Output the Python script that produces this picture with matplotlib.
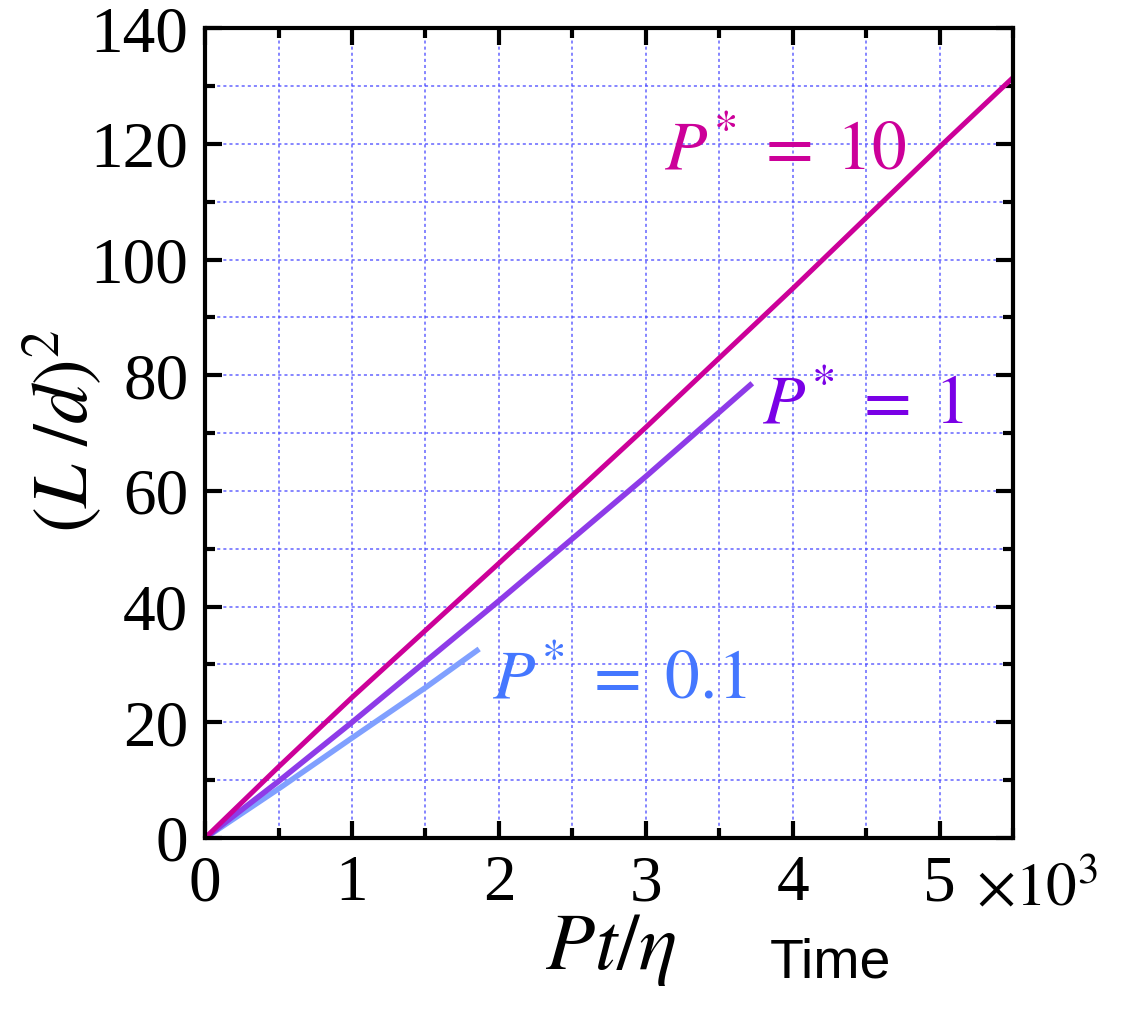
import matplotlib.pyplot as plt
from matplotlib.ticker import MultipleLocator

plt.rcParams['font.family'] = ['Liberation Serif', 'DejaVu Serif']
plt.rcParams['mathtext.fontset'] = 'stix'

# Growth curves, time in units of 10^3
t_01 = [0, 0.5, 1.0, 1.5, 1.85]
L_01 = [0, 8.5, 17.3, 26.0, 32.4]

t_1 = [0, 0.5, 1.0, 2.0, 3.0, 3.71]
L_1 = [0, 9.8, 20.0, 41.0, 62.5, 78.3]

t_10 = [0, 0.5, 1.0, 2.0, 3.0, 4.0, 5.0, 5.5]
L_10 = [0, 12.3, 24.3, 47.5, 71.0, 95.0, 119.5, 131.5]

fig = plt.figure(figsize=(11.27, 10.09), dpi=100)
ax = fig.add_axes([0.182, 0.1695, 0.717, 0.8025])

ax.plot(t_01, L_01, color='#80a0ff', lw=4)
ax.plot(t_1, L_1, color='#8e3be8', lw=4)
ax.plot(t_10, L_10, color='#cc0099', lw=3.6)

ax.set_xlim(0, 5.5)
ax.set_ylim(0, 140)
ax.xaxis.set_major_locator(MultipleLocator(1))
ax.xaxis.set_minor_locator(MultipleLocator(0.5))
ax.yaxis.set_major_locator(MultipleLocator(20))
ax.yaxis.set_minor_locator(MultipleLocator(10))

ax.grid(which='both', color='#4a4aff', ls=(0, (2, 2)), lw=1.1, alpha=0.85)
ax.tick_params(which='both', direction='in', top=True, right=True, width=3,
               labelsize=47, pad=12)
ax.tick_params(which='major', length=12)
ax.tick_params(which='minor', length=7)
for s in ax.spines.values():
    s.set_linewidth(3)

ax.text(3.95, 118.5, r'$P^{*}\;=\;10$', color='#cc0099', fontsize=50,
        ha='center', va='center')
ax.text(4.48, 74.5, r'$P^{*}\;=\;1$', color='#7a00e6', fontsize=50,
        ha='center', va='center')
ax.text(2.82, 27.0, r'$P^{*}\;=\;0.1$', color='#4477ff', fontsize=50,
        ha='center', va='center')

fig.text(0.92, 0.118, r'$\times10^{3}$', fontsize=44, ha='center', va='center')
fig.text(0.542, 0.058, r'$Pt/\eta$', fontsize=58, ha='center', va='center')
fig.text(0.737, 0.045, 'Time', fontsize=40, ha='center', va='center',
         family='Liberation Sans')
fig.text(0.056, 0.572, r'$(L\ /d)^{2}$', fontsize=56, ha='center', va='center',
         rotation=90)

fig.savefig('out.png', dpi=100)
